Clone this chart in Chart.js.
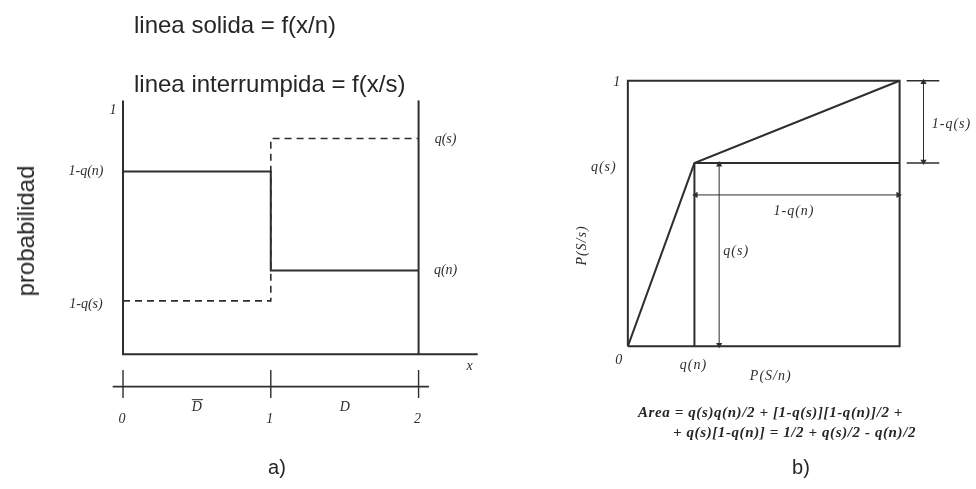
<!DOCTYPE html>
<html lang="es">
<head>
<meta charset="UTF-8">
<title>Probabilidad: f(x/n), f(x/s) y área</title>
<script src="https://cdn.jsdelivr.net/npm/chart.js"></script>
<style>
  body { margin: 0; background: #fff; }
  #lienzo { position: relative; width: 976px; height: 489px; overflow: hidden; }
  #grafico { position: absolute; left: 0; top: 0; }
  .txt { position: absolute; white-space: nowrap; color: #262626; }
  .titulo { font: 24px Arial, "Liberation Sans", sans-serif; line-height: 24px; left: 134px; }
  .eje { font: 24px Arial, "Liberation Sans", sans-serif; line-height: 24px;
         transform: translate(-50%, -50%) rotate(-90deg); }
  .pie { font: 20px Arial, "Liberation Sans", sans-serif; line-height: 20px;
         transform: translate(-50%, -50%); }
  .formula { font: italic bold 15px "Liberation Serif", serif; line-height: 16px; letter-spacing: 0.6px; }
</style>
</head>
<body>
<div id="lienzo">
  <canvas id="grafico" width="976" height="489"></canvas>
  <div class="txt titulo" style="top:13px">linea solida = f(x/n)</div>
  <div class="txt titulo" style="top:72px">linea interrumpida = f(x/s)</div>
  <div class="txt eje" style="left:26px; top:231px">probabilidad</div>
  <div class="txt pie" style="left:277px; top:467px">a)</div>
  <div class="txt pie" style="left:801px; top:467px">b)</div>
  <div class="txt formula" style="left:638px; top:404px">Area = q(s)q(n)/2 + [1-q(s)][1-q(n)]/2 +</div>
  <div class="txt formula" style="left:673px; top:424px">+ q(s)[1-q(n)] = 1/2 + q(s)/2 - q(n)/2</div>
</div>

<script>
const W = 976, H = 489;

// a) probabilidad por tramos de x
const xTramos = [0, 1, 1, 2];
const fSolida = [0.72, 0.72, 0.33, 0.33];        // f(x/n)
const fInterrumpida = [0.21, 0.21, 0.85, 0.85];  // f(x/s)
const xMarcas = [0, 1, 2];
const xMarcasTxt = ['0', '1', '2'];
const tramosX = [0.5, 1.5];
const tramosTxt = ['D', 'D'];
const tramosBarra = [true, false];

// b) P(S/s) frente a P(S/n)
const curvaX = [0, 0.245, 1];
const curvaY = [0, 0.69, 1];
const qn = curvaX[1];
const qs = curvaY[1];

// dónde cae cada panel en el lienzo (px de los valores 0 y 1 / 0 y 2)
const marcoA = { x0: 120, x1: 418, vx: 2, y0: 356, y1: 98 };
const marcoB = { x0: 629, x1: 903, vx: 1, y0: 348, y1: 78 };
const lineaY = -0.128;   // altura de la recta de tramos bajo el eje

const tinta = '#2e2e2e';

function escalaX(m) {
  const k = m.vx / (m.x1 - m.x0);
  return { type: 'linear', axis: 'x', display: false, min: -m.x0 * k, max: (W - m.x0) * k };
}
function escalaY(m) {
  const k = 1 / (m.y0 - m.y1);
  return { type: 'linear', axis: 'y', display: false, min: -(H - m.y0) * k, max: 1 + m.y1 * k };
}

function trazo(xs, ys, p, extra) {
  return Object.assign({
    data: xs.map((x, i) => ({ x: x, y: ys[i] })),
    xAxisID: 'x' + p, yAxisID: 'y' + p,
    showLine: true, borderColor: tinta, borderWidth: 2,
    pointRadius: 0, fill: false, tension: 0
  }, extra || {});
}
function flecha(xs, ys, rot, p) {
  return trazo(xs, ys, p, {
    borderWidth: 1, pointStyle: 'triangle', pointRadius: 3.6,
    pointRotation: rot, pointBackgroundColor: tinta, pointBorderWidth: 0
  });
}

const datasets = [
  // panel a
  trazo([0, 0, 2.4], [1, 0, 0], 'a'),
  trazo([2, 2], [0, 1], 'a'),
  trazo(xTramos, fSolida, 'a'),
  trazo(xTramos, fInterrumpida, 'a', { borderWidth: 1.6, borderDash: [7, 5] }),
  trazo([-0.07, 2.07], [lineaY, lineaY], 'a', { borderWidth: 1.6 }),
  ...xMarcas.map(m => trazo([m, m], [lineaY + 0.066, lineaY - 0.045], 'a', { borderWidth: 1.4 })),
  // panel b
  trazo([0, 1, 1, 0, 0], [0, 0, 1, 1, 0], 'b'),
  trazo(curvaX, curvaY, 'b'),
  trazo([qn, qn], [0, qs], 'b'),
  trazo([qn, 1], [qs, qs], 'b'),
  trazo([1.026, 1.146], [1, 1], 'b', { borderWidth: 1.6 }),
  trazo([1.026, 1.146], [qs, qs], 'b', { borderWidth: 1.6 }),
  flecha([0.336, 0.336], [0.006, qs - 0.006], [180, 0], 'b'),
  flecha([qn + 0.005, 0.995], [0.57, 0.57], [270, 90], 'b'),
  flecha([1.088, 1.088], [qs + 0.006, 0.994], [180, 0], 'b')
];

// rótulos anclados a valores de los ejes (dx, dy en px)
const rotulos = [
  { t: '1', p: 'a', x: 0, y: 1, dx: -10, dy: 10 },
  { t: '1-q(n)', p: 'a', x: 0, y: fSolida[0], dx: -37, dy: 0 },
  { t: '1-q(s)', p: 'a', x: 0, y: fInterrumpida[0], dx: -37, dy: 3 },
  { t: 'q(s)', p: 'a', x: 2, y: fInterrumpida[3], dx: 27, dy: 1 },
  { t: 'q(n)', p: 'a', x: 2, y: fSolida[3], dx: 27, dy: 0 },
  { t: 'x', p: 'a', x: 2.4, y: 0, dx: -8, dy: 12 },
  ...xMarcas.map((m, i) => ({ t: xMarcasTxt[i], p: 'a', x: m, y: lineaY, dx: -1, dy: 33 })),
  ...tramosX.map((m, i) => ({ t: tramosTxt[i], p: 'a', x: m, y: lineaY, dx: 0, dy: 21, barra: tramosBarra[i] })),
  { t: '1', p: 'b', x: 0, y: 1, dx: -11, dy: 2 },
  { t: '0', p: 'b', x: 0, y: 0, dx: -9, dy: 14 },
  { t: 'q(s)', p: 'b', x: 0, y: qs, dx: -24, dy: 4, ls: 1 },
  { t: 'q(n)', p: 'b', x: qn, y: 0, dx: -1, dy: 19, ls: 1 },
  { t: 'P(S/n)', p: 'b', x: 0.5, y: 0, dx: 7, dy: 30, ls: 1 },
  { t: 'P(S/s)', p: 'b', x: 0, y: 0.5, dx: -46, dy: 32, ls: 1, rot: -90 },
  { t: '1-q(n)', p: 'b', x: (qn + 1) / 2, y: 0.57, dx: -3, dy: 16, ls: 1 },
  { t: 'q(s)', p: 'b', x: 0.336, y: qs / 2, dx: 17, dy: -3, ls: 1 },
  { t: '1-q(s)', p: 'b', x: 1.088, y: (1 + qs) / 2, dx: 28, dy: 2, ls: 1 }
];

const pluginRotulos = {
  id: 'rotulos',
  afterDatasetsDraw(chart) {
    const ctx = chart.ctx;
    ctx.save();
    ctx.fillStyle = tinta;
    ctx.strokeStyle = tinta;
    ctx.textAlign = 'center';
    ctx.textBaseline = 'middle';
    rotulos.forEach(r => {
      const px = chart.scales['x' + r.p].getPixelForValue(r.x) + r.dx;
      const py = chart.scales['y' + r.p].getPixelForValue(r.y) + r.dy;
      ctx.save();
      ctx.font = 'italic 14px "Liberation Serif", serif';
      ctx.letterSpacing = (r.ls || 0) + 'px';
      ctx.translate(px, py);
      if (r.rot) ctx.rotate(r.rot * Math.PI / 180);
      ctx.fillText(r.t, 0, 0);
      if (r.barra) {
        const w = ctx.measureText(r.t).width;
        ctx.lineWidth = 1;
        ctx.beginPath();
        ctx.moveTo(-w / 2, -8);
        ctx.lineTo(w / 2 + 1, -8);
        ctx.stroke();
      }
      ctx.restore();
    });
    ctx.restore();
  }
};

new Chart(document.getElementById('grafico'), {
  type: 'scatter',
  data: { datasets: datasets },
  options: {
    responsive: false,
    animation: false,
    events: [],
    layout: { padding: 0 },
    plugins: { legend: { display: false }, tooltip: { enabled: false } },
    scales: {
      xa: escalaX(marcoA), ya: escalaY(marcoA),
      xb: escalaX(marcoB), yb: escalaY(marcoB)
    }
  },
  plugins: [pluginRotulos]
});
</script>
</body>
</html>
